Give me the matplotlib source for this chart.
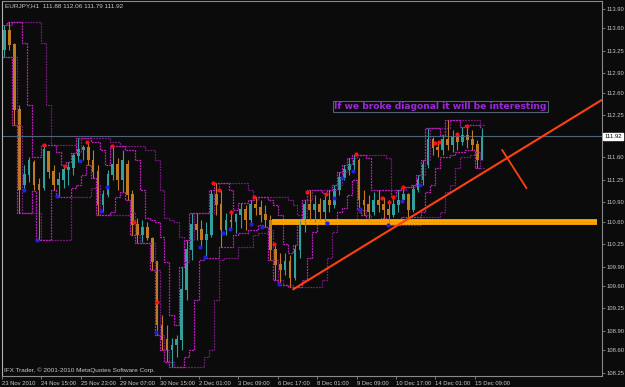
import matplotlib
matplotlib.use("Agg")
import matplotlib.pyplot as plt
import numpy as np

# ---- data: 4-hour blocks of EURJPY H1 bars ----
opens = [113.26, 113.57, 113.34, 112.33, 111.17, 111.32, 111.52, 111.17, 111.12, 111.68,
         111.37, 111.17, 111.25, 111.40, 111.43, 111.62, 111.71, 111.74, 111.55, 111.37,
         110.86, 111.01, 111.32, 111.48, 111.25, 111.48, 111.01, 110.55, 110.39, 110.50,
         110.34, 109.97, 108.99, 108.76, 108.61, 108.68, 108.76, 109.54, 110.16, 110.55,
         110.47, 110.31, 110.39, 111.01, 110.86, 110.47, 110.62, 110.59, 110.70, 110.78,
         110.62, 110.86, 110.81, 110.70, 110.62, 110.16, 109.93, 109.85, 109.97, 109.72,
         110.16, 110.55, 110.86, 110.78, 110.86, 110.75, 110.93, 110.86, 111.09, 111.28,
         111.40, 111.48, 111.55, 110.93, 110.86, 110.75, 110.93, 110.86, 110.78, 110.70,
         110.86, 110.93, 111.01, 110.78, 111.09, 111.25, 111.48, 111.87, 111.74, 111.71,
         111.87, 111.79, 111.90, 111.84, 111.94, 111.87, 111.79, 111.55]
highs = [113.65, 113.70, 113.37, 112.41, 111.48, 111.60, 111.55, 111.28, 111.79, 111.68,
         111.48, 111.37, 111.46, 111.52, 111.66, 111.90, 111.79, 111.84, 111.71, 111.48,
         111.09, 111.40, 111.77, 111.59, 111.71, 111.55, 111.09, 110.66, 110.62, 110.59,
         110.36, 109.97, 109.15, 108.99, 108.79, 108.84, 109.89, 110.31, 110.73, 110.73,
         110.62, 110.59, 111.09, 111.20, 111.09, 110.73, 110.78, 110.73, 110.89, 110.86,
         110.93, 110.98, 110.93, 110.86, 110.70, 110.25, 110.11, 110.11, 110.08, 110.24,
         110.62, 110.93, 111.09, 111.01, 110.97, 111.04, 111.09, 111.17, 111.37, 111.48,
         111.59, 111.63, 111.59, 111.09, 111.01, 111.06, 111.09, 110.98, 110.93, 111.00,
         111.09, 111.14, 111.04, 111.17, 111.32, 111.55, 112.05, 111.91, 111.84, 111.94,
         112.18, 112.02, 111.98, 112.07, 112.10, 112.02, 111.87, 112.05]
lows = [113.16, 113.26, 112.10, 110.73, 111.07, 111.21, 111.09, 110.31, 111.09, 111.28,
        111.09, 110.98, 111.12, 111.17, 111.32, 111.52, 111.55, 111.48, 111.28, 110.70,
        110.75, 110.98, 111.25, 111.09, 111.06, 110.93, 110.39, 110.27, 110.28, 110.31,
        109.85, 108.84, 108.61, 108.42, 108.34, 108.50, 108.61, 109.38, 110.00, 110.31,
        110.19, 110.03, 110.36, 110.70, 110.20, 110.39, 110.47, 110.42, 110.50, 110.47,
        110.55, 110.70, 110.59, 110.52, 110.00, 109.69, 109.61, 109.77, 109.58, 109.69,
        110.03, 110.44, 110.62, 110.59, 110.62, 110.58, 110.75, 110.81, 111.01, 111.25,
        111.32, 111.37, 110.78, 110.70, 110.62, 110.70, 110.75, 110.65, 110.55, 110.67,
        110.75, 110.90, 110.67, 110.75, 111.06, 111.17, 111.43, 111.63, 111.60, 111.63,
        111.71, 111.68, 111.71, 111.79, 111.74, 111.71, 111.43, 111.55]
closes = [113.57, 113.34, 112.33, 111.09, 111.32, 111.55, 111.17, 111.09, 111.71, 111.37,
          111.17, 111.25, 111.40, 111.43, 111.62, 111.71, 111.74, 111.55, 111.37, 110.86,
          111.01, 111.32, 111.48, 111.25, 111.55, 111.01, 110.55, 110.39, 110.50, 110.34,
          109.97, 108.99, 108.76, 108.61, 108.68, 108.76, 109.54, 110.16, 110.55, 110.47,
          110.31, 110.39, 111.01, 110.86, 110.47, 110.62, 110.59, 110.70, 110.78, 110.62,
          110.86, 110.81, 110.70, 110.62, 110.16, 109.93, 109.85, 109.97, 109.72, 110.16,
          110.55, 110.86, 110.78, 110.86, 110.75, 110.93, 110.86, 111.09, 111.28, 111.40,
          111.48, 111.55, 110.93, 110.86, 110.75, 110.93, 110.86, 110.78, 110.70, 110.86,
          110.93, 111.01, 110.78, 111.09, 111.25, 111.48, 111.87, 111.74, 111.71, 111.87,
          111.79, 111.90, 111.84, 111.94, 111.87, 111.79, 111.55, 111.92]
BARS_PER_BLOCK = 4

# fractal markers (bar index, price)
frac_up_x = [34.4, 51.5, 69.4, 89.7, 107.6, 126.2, 171.7, 176.6, 186.4, 205.0, 221.3,
             248.1, 263.5, 287.9, 309.0, 314.7, 318.0, 326.1, 352.1, 355.3, 370.0, 378.1]
frac_up_y = [111.79, 111.46, 111.84, 111.77, 110.59, 109.35, 111.20, 111.09, 110.75, 110.98, 110.25,
             111.06, 111.03, 111.65, 110.97, 110.90, 110.98, 111.14, 111.82, 111.84, 111.96, 112.08]
frac_dn_x = [18.2, 28.8, 45.0, 63.7, 80.7, 85.6, 125.4, 161.2, 165.2, 179.9, 185.5,
             202.6, 211.6, 225.3, 264.3, 270.0, 276.5, 285.5, 291.2, 313.9, 325.3, 339.9]
frac_dn_y = [111.09, 110.31, 111.00, 111.54, 110.76, 111.14, 108.88, 110.20, 110.05, 110.42, 110.48,
             110.56, 110.52, 109.63, 110.58, 110.97, 111.28, 111.38, 110.79, 110.55, 110.92, 111.17]

# drawn objects
current_price = 111.92
support_level = 110.60
support_span = [219, 483]
trend_x = [236.0, 487.4]
trend_y = [109.54, 112.49]
cross_x = [406.3, 426.0]
cross_y = [111.71, 111.12]
note_text = "If we broke diagonal it will be interesting"
note_anchor = (270.0, 112.455)

xtick_pos = [0, 32, 64, 96, 128, 160, 192, 224, 256, 288, 320, 352, 384]
xtick_lab = ["23 Nov 2010", "24 Nov 15:00", "25 Nov 23:00", "29 Nov 07:00", "30 Nov 15:00",
             "2 Dec 01:00", "3 Dec 09:00", "6 Dec 17:00", "8 Dec 01:00", "9 Dec 09:00",
             "10 Dec 17:00", "14 Dec 01:00", "15 Dec 09:00"]
ytick_vals = [113.90, 113.60, 113.25, 112.90, 112.60, 112.25, 111.60, 111.25, 110.90,
              110.60, 110.25, 109.90, 109.60, 109.25, 108.90, 108.60, 108.25]

BG = "#0b0b0b"
FG = "#c8c8c8"
UP = "#33a09c"
DN = "#c07a22"
MAG = "#c41cc4"
PUR = "#761a80"
FS = 4.2

fig = plt.figure(figsize=(6.25, 3.87), dpi=100, facecolor=BG)
ax = fig.add_axes([2 / 625, 11 / 387, 600 / 625, 375 / 387], facecolor=BG)
ax.set_xlim(0, 487.4)
ax.set_ylim(108.201, 114.024)

o = np.array(opens); h = np.array(highs); l = np.array(lows); c = np.array(closes)
n = len(o)
xc = np.arange(n) * BARS_PER_BLOCK + BARS_PER_BLOCK / 2
cols = [UP if cc >= oo else DN for oo, cc in zip(o, c)]

# price channels (Donchian) derived from the data
def channel(win, shift):
    up = np.array([h[max(0, i - win + 1):i + 1].max() for i in range(n)])
    lo = np.array([l[max(0, i - win + 1):i + 1].min() for i in range(n)])
    xs = np.arange(n) * BARS_PER_BLOCK + shift * BARS_PER_BLOCK
    return xs, up, lo

xs, up, lo = channel(6, 1)
ax.step(xs, up, where="post", color=PUR, lw=0.9, ls=(0, (1.5, 0.8)))
ax.step(xs, lo, where="post", color=PUR, lw=0.9, ls=(0, (1.5, 0.8)))
xs, up, lo = channel(3, 0)
ax.step(xs, up, where="post", color=MAG, lw=0.9, ls=(0, (1.5, 0.8)))
ax.step(xs, lo, where="post", color=MAG, lw=0.9, ls=(0, (1.5, 0.8)))

# current price line
ax.axhline(current_price, color="#4e6478", lw=0.8)

# support band
ax.hlines(support_level, support_span[0], support_span[1], color="#ffa500", lw=4.2)
ax.hlines(support_level, support_span[0], support_span[1], color="#e08a00", lw=0.6,
          ls=(0, (1, 1)))

# candles
ax.vlines(xc, l, h, colors=cols, lw=0.8)
ax.bar(xc, np.abs(c - o) + 0.01, bottom=np.minimum(o, c), width=2.2, color=cols, lw=0)

# fractals
ax.scatter(frac_up_x, frac_up_y, s=9, color="#ff1010", zorder=5, lw=0)
ax.scatter(frac_dn_x, frac_dn_y, s=9, color="#2020e0", zorder=5, lw=0)

# trend lines
ax.plot(trend_x, trend_y, color="#ff4010", lw=1.5, solid_capstyle="butt", zorder=6)
ax.plot(cross_x, cross_y, color="#ff4010", lw=1.3, zorder=6)

# note
ax.text(note_anchor[0], note_anchor[1], note_text, color="#9c28d8", fontsize=6.6,
        fontweight="bold", family="DejaVu Sans", ha="left", va="top", zorder=7,
        bbox=dict(boxstyle="square,pad=0.12", fc="none", ec="#4f6070", lw=0.8))

# axes styling
for side in ["top", "bottom", "right"]:
    ax.spines[side].set_color("#8a8a8a")
    ax.spines[side].set_linewidth(0.8)
ax.spines["left"].set_color("#b0b0b0")
ax.spines["left"].set_linewidth(0.8)

ax.yaxis.tick_right()
ax.set_yticks(ytick_vals + [current_price])
ax.set_yticklabels(["%.2f" % v for v in ytick_vals] + [""])
ax.tick_params(axis="y", direction="out", length=2, width=0.6, color="#8a8a8a",
               labelcolor=FG, labelsize=FS, pad=1.5)
for t in ax.get_yticklabels():
    t.set_family("Liberation Sans")

ax.set_xticks(xtick_pos)
ax.set_xticklabels(xtick_lab)
ax.tick_params(axis="x", direction="out", length=2.5, width=0.6, color="#8a8a8a",
               labelcolor=FG, labelsize=FS, pad=1.0)
for t in ax.get_xticklabels():
    t.set_ha("left")
    t.set_family("Liberation Sans")

ax.text(1.0035, current_price, "%.2f" % current_price, transform=ax.get_yaxis_transform(),
        ha="left", va="center", fontsize=FS, family="Liberation Sans", color="black",
        bbox=dict(boxstyle="square,pad=0.2", fc="white", ec="white"))

ax.text(0.005, 0.993, "EURJPY,H1  111.88 112.06 111.79 111.92", transform=ax.transAxes,
        ha="left", va="top", fontsize=4.6, family="Liberation Sans", color=FG)
ax.text(0.003, 0.008, "IFX Trader, \u00a9 2001-2010 MetaQuotes Software Corp.",
        transform=ax.transAxes, ha="left", va="bottom", fontsize=4.6,
        family="Liberation Sans", color=FG)

fig.savefig("out.png", dpi=100, facecolor=BG)
